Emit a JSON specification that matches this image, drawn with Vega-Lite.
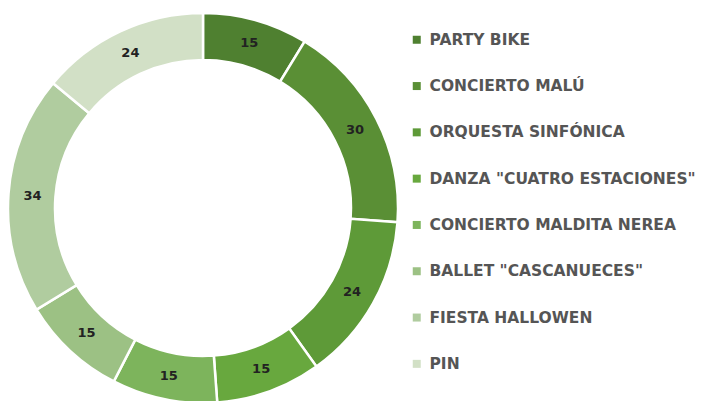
{
  "$schema": "https://vega.github.io/schema/vega-lite/v6.json",
  "width": 406,
  "height": 416,
  "padding": 0,
  "autosize": {"type": "pad"},
  "background": "white",
  "data": {"values": [
    {"idx": 1, "evento": "PARTY BIKE", "valor": 15},
    {"idx": 2, "evento": "CONCIERTO MALÚ", "valor": 30},
    {"idx": 3, "evento": "ORQUESTA SINFÓNICA", "valor": 24},
    {"idx": 4, "evento": "DANZA \"CUATRO ESTACIONES\"", "valor": 15},
    {"idx": 5, "evento": "CONCIERTO MALDITA NEREA", "valor": 15},
    {"idx": 6, "evento": "BALLET \"CASCANUECES\"", "valor": 15},
    {"idx": 7, "evento": "FIESTA HALLOWEN", "valor": 34},
    {"idx": 8, "evento": "PIN", "valor": 24}
  ]},
  "encoding": {
    "theta": {"field": "valor", "type": "quantitative", "stack": true},
    "order": {"field": "idx", "type": "quantitative"}
  },
  "layer": [
    {
      "mark": {"type": "arc", "innerRadius": 148, "outerRadius": 195, "stroke": "white", "strokeWidth": 2.5},
      "encoding": {
        "color": {
          "field": "evento", "type": "nominal",
          "scale": {
            "domain": ["PARTY BIKE", "CONCIERTO MALÚ", "ORQUESTA SINFÓNICA", "DANZA \"CUATRO ESTACIONES\"", "CONCIERTO MALDITA NEREA", "BALLET \"CASCANUECES\"", "FIESTA HALLOWEN", "PIN"],
            "range": ["#4f8030", "#5a8f35", "#5e9a38", "#68a83e", "#7db45c", "#9cc184", "#b0cc9f", "#d2e0c6"]
          },
          "legend": {
            "orient": "none", "legendX": 409, "legendY": 32,
            "title": null, "symbolType": "square", "symbolSize": 64,
            "symbolStrokeWidth": 0,
            "labelFont": "DejaVu Sans", "labelFontWeight": "bold", "labelFontSize": 15.5,
            "labelColor": "#555555", "labelOffset": 5, "rowPadding": 29.3,
            "labelLimit": 400, "padding": 0
          }
        }
      }
    },
    {
      "mark": {"type": "text", "radius": 171, "font": "DejaVu Sans", "fontWeight": "bold", "fontSize": 13, "color": "#222222"},
      "encoding": {"text": {"field": "valor", "type": "quantitative"}}
    }
  ]
}
